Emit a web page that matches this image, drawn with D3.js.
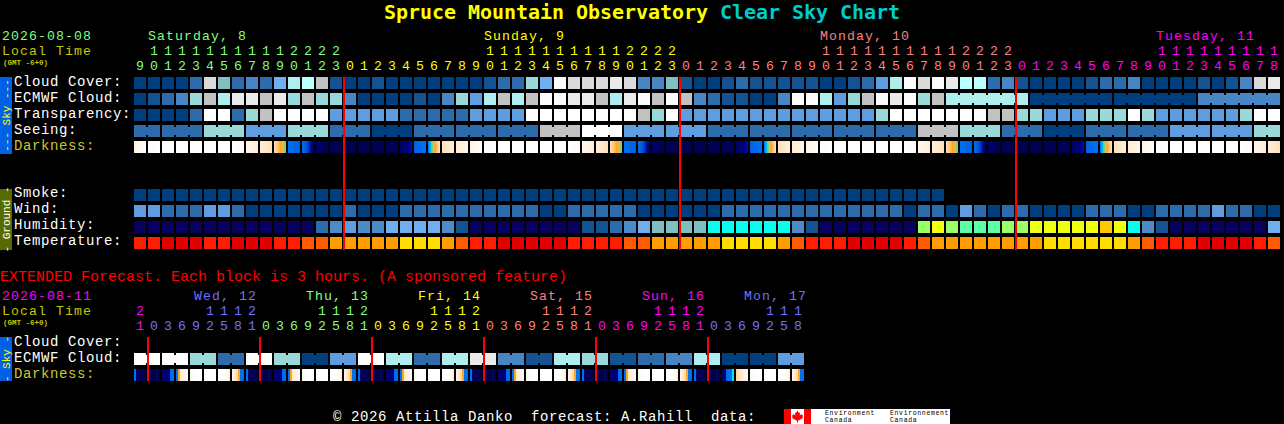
<!DOCTYPE html>
<html>
<head>
<meta charset="utf-8">
<title>Spruce Mountain Observatory Clear Sky Chart</title>
<script src="https://cdn.jsdelivr.net/npm/d3@7/dist/d3.min.js"></script>
<style>
html,body{margin:0;padding:0;background:#000;overflow:hidden}
svg{display:block}
text{font-family:"Liberation Mono",monospace;white-space:pre}
</style>
</head>
<body>
<svg id="chart" width="1284" height="424"></svg>
<script>
/* ---------- data ---------- */
const skyLabels = ["Cloud Cover:", "ECMWF Cloud:", "Transparency:", "Seeing:", "Darkness:"];
const groundLabels = ["Smoke:", "Wind:", "Humidity:", "Temperature:"];
const extLabels = ["Cloud Cover:", "ECMWF Cloud:", "Darkness:"];

const mainHours = [9,10,11,12,13,14,15,16,17,18,19,20,21,22,23,
  0,1,2,3,4,5,6,7,8,9,10,11,12,13,14,15,16,17,18,19,20,21,22,23,
  0,1,2,3,4,5,6,7,8,9,10,11,12,13,14,15,16,17,18,19,20,21,22,23,
  0,1,2,3,4,5,6,7,8,9,10,11,12,13,14,15,16,17,18];
const dayLabels = ["Saturday, 8", "Sunday, 9", "Monday, 10", "Tuesday, 11"];
const dayLabelCols = [1, 25, 49, 73];
const midnightCols = [15, 39, 63];

const extHours = [21,
  0,3,6,9,12,15,18,21, 0,3,6,9,12,15,18,21, 0,3,6,9,12,15,18,21,
  0,3,6,9,12,15,18,21, 0,3,6,9,12,15,18,21, 0,3,6,9,12,15,18];
const extDayLabels = ["Wed, 12", "Thu, 13", "Fri, 14", "Sat, 15", "Sun, 16", "Mon, 17"];
const extMidnightCols = [1, 9, 17, 25, 33, 41];

/* sky condition levels, index into skyPalette */
const cloudCover = [0,0,0,0,2,11,6,2,3,2,5,8,9,10,1,0,0,1,0,0,0,
  0,0,0,0,1,2,2,7,5,13,11,11,11,12,11,3,3,6,1,0,0,1,2,1,1,1,1,1,0,0,1,
  2,4,8,13,11,13,12,9,9,2,3,1,0,0,0,0,1,2,2,3,0,0,0,0,1,0,1,3,11,12];
const ecmwfCloud = [0,1,2,3,7,10,8,12,12,10,12,7,10,7,7,3,0,0,0,0,1,
  0,3,7,4,8,10,8,10,13,13,12,12,10,8,12,13,10,13,10,3,2,1,1,0,0,3,13,13,8,4,7,
  10,13,12,13,7,10,8,8,8,8,8,8,0,0,0,0,0,0,0,0,0,0,0,0,3,3,3,3,3,3];
const ecmwfSpans = [[58,63],[64,69],[70,75],[76,81]];
const transparency = [0,0,0,0,2,14,14,2,7,10,14,14,14,14,4,4,4,4,4,2,2,
  2,2,2,4,4,4,4,14,14,14,14,14,14,14,14,10,7,14,4,4,4,4,4,4,4,4,4,4,4,4,4,
  4,7,14,14,14,14,14,14,14,10,10,7,7,4,4,4,7,7,7,14,7,4,4,4,4,4,4,7,14,14];
const seeingBlocks = [2,3,3,3,3,3,3,3,3,3,3,3,3,3,3,3,3,3,3,3,3,3,3,3,3,3,3,2];
const seeingValues = [2,2,7,4,7,2,0,2,2,2,10,14,4,4,2,2,2,2,2,10,7,2,0,2,2,4,4,7];

const darknessFrom = [-3.2,-3.8,-4,-4,-4,-4,-4,-4,-3.5,-2.9,-2.2,1,1,5.5,6,
  6,6,6,6,5.8,2,1,-2.3,-2.8,-3.3,-3.8,-4,-4,-4,-4,-4,-4,-3.5,-2.9,-2.2,1,1,5.5,6,
  6,6,6,6,5.8,2,1,-2.3,-2.8,-3.3,-3.8,-4,-4,-4,-4,-4,-4,-3.5,-2.9,-2.2,1,1,5.5,6,
  6,6,6,6,5.8,2,1,-2.3,-2.8,-3.3,-3.8,-4,-4,-4,-4,-4,-4,-3.5,-2.9];
const darknessTo = [-3.9,-4,-4,-4,-4,-4,-4,-3.6,-2.9,-2.3,0,2.2,5.6,5.9,6,
  6,6,6,6,4.2,1,-2.4,-2.9,-3.4,-3.9,-4,-4,-4,-4,-4,-4,-3.6,-2.9,-2.3,0,2.2,5.6,5.9,6,
  6,6,6,6,4.2,1,-2.4,-2.9,-3.4,-3.9,-4,-4,-4,-4,-4,-4,-3.6,-2.9,-2.3,0,2.2,5.6,5.9,6,
  6,6,6,6,4.2,1,-2.4,-2.9,-3.4,-3.9,-4,-4,-4,-4,-4,-4,-3.6,-2.9,-2.3];

/* ground */
const smoke = [0,0,0,0,0,0,0,0,0,0,0,0,0,0,0,0,0,0,0,0,0,0,0,0,0,0,0,0,0,
  0,0,0,0,0,0,0,0,0,0,0,0,0,0,0,0,0,0,0,0,0,0,0,0,0,0,0,0,0];
const wind = [4,4,2,2,2,4,4,2,0,0,0,0,0,0,0,2,0,0,0,2,2,
  2,2,2,2,2,2,2,2,0,0,2,2,2,2,2,0,0,0,0,0,0,2,2,2,2,2,2,2,2,2,2,
  2,2,2,0,2,2,0,4,2,0,2,2,0,0,0,0,2,2,2,0,0,2,2,2,2,4,2,2,0,0];
/* humidity classes, index into humidityPalette */
const humidity = [0,0,0,0,0,0,0,0,0,0,0,0,0,2,3,4,3,3,5,5,5,
  5,3,1,0,0,0,0,0,0,0,0,1,1,2,3,5,6,6,6,6,7,7,7,7,7,7,3,1,0,0,0,
  0,0,0,0,9,10,9,8,8,8,9,9,10,10,10,10,10,11,10,7,3,1,0,0,0,0,0,0,0,5];
/* temperature classes, index into temperaturePalette */
const temperature = [1,1,0,0,0,1,1,0,0,0,1,1,2,2,3,3,3,3,3,4,4,
  4,3,2,1,1,0,0,0,0,0,1,1,1,1,2,2,3,3,3,3,3,4,4,4,4,3,2,1,1,1,0,
  0,0,0,1,2,3,3,3,3,3,3,3,3,4,4,4,4,4,4,3,2,1,1,1,0,0,0,0,1,2];

/* extended forecast: one value per two-block period */
const extEcmwf = [14,14,7,2,14,7,0,4,14,8,2,8,12,3,1,8,7,1,2,3,8,0,0,4];
const extDarkness = [
  [1,5.5,5.7,5.8,5.9,6],[6,6,6,6,6,6],[5.5,5.2,5,4.8,1.5,1],[1,-1,-2.6,-3,-3.3,-3.6],
  [-3.7,-3.8,-3.9,-4,-4,-4],[-4,-4,-4,-4,-4,-4],[-4,-4,-3.9,-3.7,-3.5,-3.2],[-3,-2.6,-2.2,-1,1,1],
  [1,5.5,5.7,5.8,5.9,6],[6,6,6,6,6,6],[5.5,5.2,5,4.8,1.5,1],[1,-1,-2.6,-3,-3.3,-3.6],
  [-3.7,-3.8,-3.9,-4,-4,-4],[-4,-4,-4,-4,-4,-4],[-4,-4,-3.9,-3.7,-3.5,-3.2],[-3,-2.6,-2.2,-1,1,1],
  [1,5.5,5.7,5.8,5.9,6],[6,6,6,6,6,6],[5.5,5.2,5,4.8,1.5,1],[1,-1,-2.6,-3,-3.3,-3.6],
  [-3.7,-3.8,-3.9,-4,-4,-4],[-4,-4,-4,-4,-4,-4],[-4,-4,-3.9,-3.7,-3.5,-3.2],[-3,-2.6,-2.2,-1,1,1],
  [1,5.5,5.7,5.8,5.9,6],[6,6,6,6,6,6],[5.5,5.2,5,4.8,1.5,1],[1,-1,-2.6,-3,-3.3,-3.6],
  [-3.7,-3.8,-3.9,-4,-4,-4],[-4,-4,-4,-4,-4,-4],[-4,-4,-3.9,-3.7,-3.5,-3.2],[-3,-2.6,-2.2,-1,1,1],
  [1,5.5,5.7,5.8,5.9,6],[6,6,6,6,6,6],[5.5,5.2,5,4.8,1.5,1],[1,-1,-2.6,-3,-3.3,-3.6],
  [-3.7,-3.8,-3.9,-4,-4,-4],[-4,-4,-4,-4,-4,-4],[-4,-4,-3.9,-3.7,-3.5,-3.2],[-3,-2.6,-2.2,-1,1,1],
  [1,5.5,5.7,5.8,5.9,6],[6,6,6,6,6,6],[5.5,5.2,1.5,1,1,0],[-2,-2.4,-2.6,-3,-3.3,-3.6],
  [-3.7,-3.8,-3.9,-4,-4,-4],[-4,-4,-4,-4,-4,-4],[-4,-4,-3.9,-3.7,-3.5,-3.2],[-3,-2.6,-2.2,-1,1,1]];

/* ---------- styling ---------- */
const skyPalette = ["#003F7F","#135393","#2C6CAC","#4785C5","#5E9EE0","#6FAFEF","#7FBFBF",
  "#99D9D9","#AEEEEE","#BBFFFF","#C2C2C2","#DADADA","#EAEAEA","#FBFBFB","#FFFFFF"];
const humidityPalette = ["#08005F","#135393","#2C6CAC","#4C8ACA","#5E9EE0","#6FAFEF","#7FBFBF",
  "#08FFEE","#5CFFA8","#99FF66","#EEFF11","#FFC800"];
const temperaturePalette = ["#E10000","#FF1E00","#FF5A00","#FF9E00","#FFDD00"];
const darkStops = [-4,-3.4,-2.8,-2.2,-1.6,-1,-0.5,0,0.5,1,2,3,4,4.5,5.5,6];
const darkColors = ["#FFFFFF","#FFF6EA","#FFECD4","#FFDCB0","#FFC880","#FFA428","#E8C030","#00E8E8",
  "#00A0FF","#0070F0","#0062E4","#0050D0","#0020B0","#000090","#000066","#000054"];
const dayColors = ["#80FF80","#FFFF00","#FF8080","#FF00FF","#7070FF"];
const dim = "#C8C800";
const ADV = 9;           /* character advance of the chart's text */
const SIZE_ROW = 14;     /* labels beside the 16px rows */
const SIZE_TIGHT = 13.2; /* header rows, 15px apart */

const skyColor = d3.scaleOrdinal(d3.range(skyPalette.length), skyPalette);
const humColor = d3.scaleOrdinal(d3.range(humidityPalette.length), humidityPalette);
const tempColor = d3.scaleOrdinal(d3.range(temperaturePalette.length), temperaturePalette);
const darkColor = d3.scaleLinear().domain(darkStops).range(darkColors).interpolate(d3.interpolateRgb).clamp(true);

const x = d3.scaleLinear().domain([0, 82]).range([134, 1282]);
const cellW = x(1) - x(0) - 2, cellH = 12;
const yMain = d3.scaleLinear().domain([0, 1]).range([77, 93]);
const yGround = d3.scaleLinear().domain([0, 1]).range([189, 205]);
const yExt = d3.scaleLinear().domain([0, 1]).range([337, 353]);

const svg = d3.select("#chart");
svg.append("rect").attr("width", 1284).attr("height", 424).attr("fill", "#000");

function label(t, px, py, fill, size, anchor) {
  const n = svg.append("text").attr("x", px).attr("y", py).attr("fill", fill).text(t)
    .style("font-size", size + "px");
  if (anchor) n.attr("text-anchor", anchor);
  else n.style("letter-spacing", (ADV - 0.6 * size).toFixed(2) + "px");
  return n;
}
function gmt(py) {
  svg.append("text").attr("x", 3).attr("y", py).attr("fill", dim)
    .style("font-size", "7.5px").style("font-weight", "bold").text("(GMT -6+0)");
}
function cells(values, yPos, scale) {
  svg.append("g").selectAll("rect").data(values).join("rect")
    .attr("x", (d, i) => x(i)).attr("y", yPos)
    .attr("width", cellW).attr("height", cellH)
    .attr("fill", d => scale(d));
}
/* joined blocks keep a narrow neck across the gap */
function bridges(spans, values, yPos) {
  const g = svg.append("g");
  spans.forEach(([a, b]) => {
    d3.range(a, b).forEach(i => {
      g.append("rect").attr("x", x(i) + cellW).attr("y", yPos + 2)
        .attr("width", 2).attr("height", cellH - 4).attr("fill", skyColor(values[a]));
    });
  });
}
function darkCell(g, col, samples, yPos, stepped) {
  const n = stepped ? samples.length : cellW;
  const w = cellW / n;
  d3.range(n).forEach(k => {
    const v = stepped ? samples[k]
      : samples[0] + (samples[1] - samples[0]) * (k + 0.5) / n;
    g.append("rect").attr("x", x(col) + k * w).attr("y", yPos)
      .attr("width", w).attr("height", cellH).attr("fill", darkColor(v));
  });
}
function sideBar(y0, y1, fill, textFill, t) {
  svg.append("rect").attr("x", 0).attr("y", y0).attr("width", 12).attr("height", y1 - y0).attr("fill", fill);
  svg.append("text").attr("transform", `translate(9.5,${(y0 + y1) / 2}) rotate(-90)`)
    .attr("text-anchor", "middle").attr("fill", textFill).style("font-size", "11px").text(t);
}

/* ---------- title ---------- */
const title = svg.append("text").attr("x", 384).attr("y", 19)
  .style("font-family", '"DejaVu Sans Mono"').style("font-size", "20px").style("font-weight", "bold")
  .style("letter-spacing", "-0.04px");
title.append("tspan").attr("fill", "#FFFF00").text("Spruce Mountain Observatory ");
title.append("tspan").attr("fill", "#00CCCC").text("Clear Sky Chart");

/* ---------- main header ---------- */
label("2026-08-08", 2, 39.5, dayColors[0], SIZE_TIGHT);
label("Local Time", 2, 54.5, dim, SIZE_TIGHT);
gmt(64.5);
dayLabels.forEach((t, i) => label(t, x(dayLabelCols[i]), 39.5, dayColors[i], SIZE_TIGHT));

let dayIdx = 0;
mainHours.forEach((h, i) => {
  if (i > 0 && h === 0) dayIdx++;
  const c = dayColors[dayIdx], cx = x(i) + cellW / 2;
  if (h >= 10) label(String(Math.floor(h / 10)), cx, 54.5, c, SIZE_TIGHT, "middle");
  label(String(h % 10), cx, 69.5, c, SIZE_TIGHT, "middle");
});

/* ---------- main sky rows ---------- */
sideBar(77, 154, "#0060E8", "#FFFF00", "--- Sky ---");
skyLabels.forEach((t, i) => label(t, 14, 85.5 + 16 * i, i === 4 ? "#C8C832" : "#FFFFFF", SIZE_ROW));
cells(cloudCover, yMain(0), skyColor);
cells(ecmwfCloud, yMain(1), skyColor);
bridges(ecmwfSpans, ecmwfCloud, yMain(1));
cells(transparency, yMain(2), skyColor);

const seeing = seeingValues.flatMap((v, i) => d3.range(seeingBlocks[i]).map(() => v));
cells(seeing, yMain(3), skyColor);
const seeingEnds = d3.cumsum(seeingBlocks);
bridges(seeingBlocks.map((n, i) => [seeingEnds[i] - n, seeingEnds[i] - 1]), seeing, yMain(3));

const gDark = svg.append("g");
darknessFrom.forEach((f, i) => darkCell(gDark, i, [f, darknessTo[i]], yMain(4), false));

/* ---------- ground rows ---------- */
sideBar(189, 250, "#556B00", "#FFFFFF", "- Ground -");
groundLabels.forEach((t, i) => label(t, 14, 197 + 16 * i, "#FFFFFF", SIZE_ROW));
cells(smoke, yGround(0), skyColor);
cells(wind, yGround(1), skyColor);
cells(humidity, yGround(2), humColor);
cells(temperature, yGround(3), tempColor);

svg.append("g").selectAll("rect").data(midnightCols).join("rect")
  .attr("x", d => x(d) - 1).attr("y", 77).attr("width", 2).attr("height", 173).attr("fill", "#FF0000");

/* ---------- extended forecast ---------- */
label("EXTENDED Forecast. Each block is 3 hours. (A sponsored feature)", 0, 280.5, "#FF0000", 15);
label("2026-08-11", 2, 299.5, dayColors[3], SIZE_TIGHT);
label("Local Time", 2, 314.5, dim, SIZE_TIGHT);
gmt(324.5);

const extDayColors = [dayColors[4], dayColors[0], dayColors[1], dayColors[2], dayColors[3], dayColors[4]];
extDayLabels.forEach((t, i) => {
  const px = Math.min(x(extMidnightCols[i] + 3.29), 807 - t.length * ADV);
  label(t, px, 299.5, extDayColors[i], SIZE_TIGHT);
});
let extIdx = -1;
extHours.forEach((h, i) => {
  if (h === 0) extIdx++;
  const c = extIdx < 0 ? dayColors[3] : extDayColors[extIdx], cx = x(i) + cellW / 2;
  if (h >= 10) label(String(Math.floor(h / 10)), cx, 314.5, c, SIZE_TIGHT, "middle");
  label(String(h % 10), cx, 329.5, c, SIZE_TIGHT, "middle");
});

sideBar(337, 381, "#0060E8", "#FFFF00", "- Sky -");
extLabels.forEach((t, i) => label(t, 14, 345.5 + 16 * i, i === 2 ? "#C8C832" : "#FFFFFF", SIZE_ROW));

const extCloudCells = extEcmwf.flatMap(v => [v, v]);
cells(extCloudCells, yExt(1), skyColor);
bridges(extEcmwf.map((v, i) => [2 * i, 2 * i + 1]), extCloudCells, yExt(1));

const gExt = svg.append("g");
extDarkness.forEach((s, i) => darkCell(gExt, i, s, yExt(2), true));

svg.append("g").selectAll("rect").data(extMidnightCols).join("rect")
  .attr("x", d => x(d) - 1).attr("y", 337).attr("width", 2).attr("height", 44).attr("fill", "#FF0000");

/* ---------- footer ---------- */
label("\u00A9 2026 Attilla Danko  forecast: A.Rahill  data:", 333, 420.5, "#FFFFFF", SIZE_ROW);
const logo = svg.append("g");
logo.append("rect").attr("x", 784).attr("y", 409).attr("width", 166).attr("height", 15).attr("fill", "#FFFFFF");
logo.append("rect").attr("x", 784).attr("y", 409).attr("width", 7).attr("height", 15).attr("fill", "#FF0000");
logo.append("rect").attr("x", 804).attr("y", 409).attr("width", 7).attr("height", 15).attr("fill", "#FF0000");
logo.append("path")
  .attr("transform", "translate(797.5,416.5)")
  .attr("d", "M0,-6 L1.5,-3.5 L2.5,-4 L2.2,-1 L4,-2.5 L4.5,-1.2 L5.5,-1.2 L5,0.8 L5.5,1.5 L1,4 L0.5,4 L0.5,6 L-0.5,6 L-0.5,4 L-1,4 L-5.5,1.5 L-5,0.8 L-5.5,-1.2 L-4.5,-1.2 L-4,-2.5 L-2.2,-1 L-2.5,-4 L-1.5,-3.5 Z")
  .attr("fill", "#FF0000");
[["Environment", 825], ["Environnement", 890]].forEach(([t, px]) => {
  [[t, 414.6], ["Canada", 422]].forEach(([s, py]) => {
    svg.append("text").attr("x", px).attr("y", py).attr("fill", "#000000")
      .style("font-size", "6.5px").style("letter-spacing", "0.65px").text(s);
  });
});
</script>
</body>
</html>
